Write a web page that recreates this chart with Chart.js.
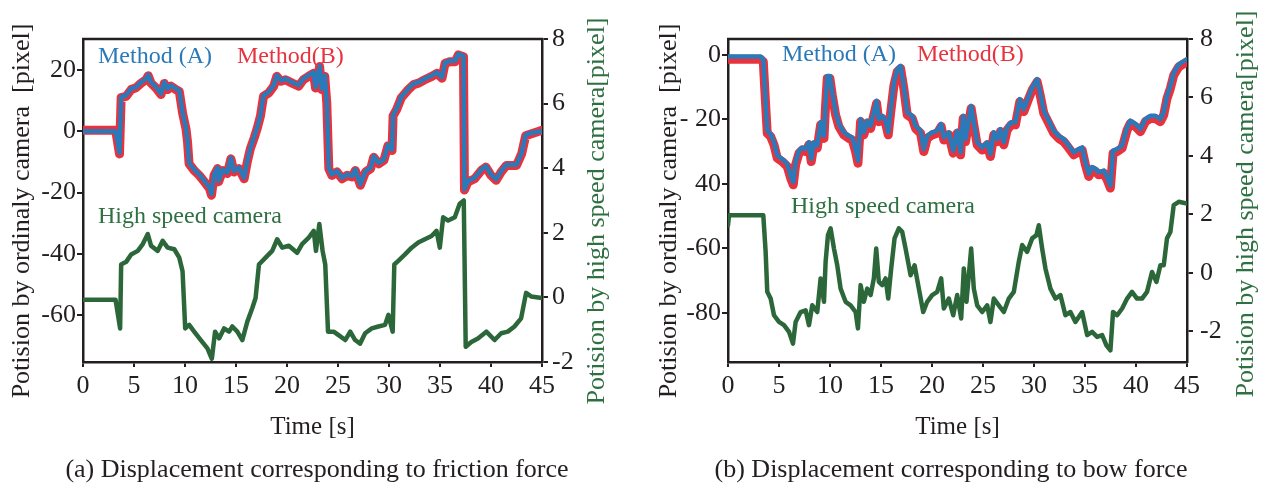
<!DOCTYPE html>
<html>
<head>
<meta charset="utf-8">
<script src="https://cdn.jsdelivr.net/npm/chart.js@4.4.0/dist/chart.umd.min.js"></script>
<style>
  html, body { margin: 0; padding: 0; background: #fff; }
  #wrap { position: relative; width: 1268px; height: 487px; overflow: hidden;
          font-family: "Liberation Serif", "Times New Roman", serif; }
  .panel { position: absolute; top: 0; width: 634px; height: 487px; }
  .caption { position: absolute; top: 456px; width: 634px; text-align: center;
             font-size: 26px; line-height: 26px; color: #231f20; }
</style>
</head>
<body>
<div id="wrap">
  <div class="panel" style="left:0"><canvas id="chartA" width="634" height="487"></canvas></div>
  <div class="panel" style="left:634px"><canvas id="chartB" width="634" height="487"></canvas></div>
  <div class="caption" style="left:0">(a) Displacement corresponding to friction force</div>
  <div class="caption" style="left:634px">(b) Displacement corresponding to bow force</div>
</div>
<script>
// ---- data ----
// (a) friction force: ordinary camera, both methods share the time samples
const timeA = [0, 3.2, 3.58, 3.74, 4.23, 4.72, 5.2, 5.7, 6.18, 6.4, 6.67, 7.16, 7.65, 7.97, 8.3, 8.62, 9.1, 9.44, 9.76, 10.1,
  10.25, 10.4, 10.9, 11.4, 11.9, 12.4, 12.6, 12.85, 13.2, 13.3, 13.7, 14.15, 14.5, 14.8, 15.3, 15.8, 16.1, 16.4, 16.8, 17.1,
  17.4, 17.7, 18.2, 18.7, 19.0, 19.4, 19.85, 20.5, 21.15, 21.6, 22.1, 22.6, 22.8, 23.2, 23.4, 23.7, 23.9, 24.1, 24.4, 24.9,
  25.4, 25.9, 26.4, 26.7, 27.2, 27.7, 28.2, 28.5, 29.0, 29.5, 29.9, 30.3, 30.4, 30.75, 31.2, 31.9, 32.4, 32.9, 33.5, 34.2,
  34.7, 35.2, 35.5, 36.0, 36.5, 36.8, 37.3, 37.4, 37.75, 38.4, 39.05, 39.5, 40.0, 40.5, 41.0, 41.5, 42.0, 42.5, 43.0, 43.4,
  43.9, 45];
const methodA_a = [0, 0, -7, 11.2, 11.7, 13.9, 14.4, 16, 17.1, 18.4, 16, 14.4, 12.3, 16, 13.9, 15, 13.9, 13.3, 6.3, 1,
  -3.3, -10.3, -12.5, -14.1, -16.2, -18.4, -20.5, -14.1, -11.9, -16.2, -12.5, -13.5, -8.7, -13, -11.9, -15.2, -9.8, -5.5, -1.7, 1.5,
  5.3, 11.7, 12.8, 15, 18.2, 16.6, 17.1, 16, 15, 17.1, 18.2, 19.2, 14.4, 21.4, 13.9, 18.2, 9.6, -11.9, -14.1, -13,
  -15.2, -14.1, -14.6, -12.5, -17.3, -13, -11.9, -8.2, -10.3, -9.2, -4.4, -6.0, 5.3, 7.4, 11.2, 13.9, 15.5, 16, 17.1, 18.2,
  19.2, 17.6, 22.5, 23, 23, 25.2, 24.6, -18.9, -16.2, -15.2, -12.5, -11.4, -14.1, -15.7, -13, -10.9, -10.9, -10.9, -7.1, -1.2,
  -0.6, 0];
const methodB_a = [0.3, 0.3, -7.4, 11.0, 11.4, 13.6, 14.2, 15.7, 16.8, 18.1, 15.7, 14.1, 12.0, 15.6, 13.6, 14.7, 13.6, 13.0, 6.0, 0.7,
  -3.6, -10.6, -12.8, -14.4, -16.5, -18.7, -20.9, -14.4, -12.2, -16.5, -12.8, -13.8, -9.0, -13.3, -12.2, -15.5, -10.1, -5.8, -2.0, 1.2,
  5.0, 11.4, 12.5, 14.7, 17.9, 16.3, 16.8, 15.7, 14.7, 16.8, 17.9, 18.9, 14.1, 21.1, 13.6, 17.9, 9.3, -12.2, -14.4, -13.3,
  -15.5, -14.4, -14.9, -12.8, -17.6, -13.3, -12.2, -8.5, -10.6, -9.5, -4.7, -6.3, 5.0, 7.1, 10.9, 13.6, 15.2, 15.7, 16.8, 17.9,
  18.9, 17.3, 22.2, 22.7, 22.7, 24.9, 24.3, -19.2, -16.5, -15.5, -12.8, -11.7, -14.4, -16.0, -13.3, -11.2, -11.2, -11.2, -7.4, -1.5,
  -0.9, 0.3];
// (a) high speed camera
const timeCamA = [0, 3.19, 3.64, 3.74, 4.23, 4.72, 5.37, 5.86, 6.35, 6.67, 7.32, 7.81, 8.3, 8.95, 9.44, 9.76, 10.02, 10.41, 10.9, 11.55,
  12.2, 12.63, 12.95, 13.34, 13.83, 14.32, 14.64, 15.13, 15.62, 16.11, 16.6, 16.92, 17.25, 17.9, 18.55, 19.04, 19.53, 20.18, 20.99, 21.48,
  22.13, 22.62, 22.84, 23.17, 23.49, 23.75, 24.02, 24.57, 25.06, 25.71, 26.2, 26.68, 27.17, 27.66, 28.31, 28.96, 29.61, 29.94, 30.36, 30.52,
  30.91, 31.57, 32.22, 32.87, 33.52, 34.17, 34.66, 34.98, 35.31, 35.8, 36.45, 36.93, 37.33, 37.52, 38.07, 38.72, 39.54, 40.35, 41.0, 41.65,
  42.3, 42.95, 43.44, 43.93, 45];
const camera_a = [-0.07, -0.07, -0.96, 1.02, 1.1, 1.33, 1.44, 1.65, 1.96, 1.6, 1.44, 1.75, 1.54, 1.49, 1.23, 0.81, -0.96, -0.85, -1.06, -1.32,
  -1.58, -1.9, -1.06, -1.27, -0.96, -1.06, -0.9, -1.06, -1.32, -0.75, -0.33, -0.02, 1.02, 1.23, 1.44, 1.8, 1.54, 1.6, 1.38, 1.65,
  1.85, 2.06, 1.44, 2.27, 1.44, 1.02, -1.06, -1.06, -1.17, -1.32, -1.06, -1.32, -1.43, -1.11, -0.96, -0.9, -0.85, -0.54, -1.06, 1.02,
  1.13, 1.33, 1.54, 1.7, 1.8, 1.9, 2.06, 1.54, 2.48, 2.38, 2.48, 2.9, 3.0, -1.53, -1.38, -1.27, -1.06, -1.32, -1.11, -1.06,
  -0.9, -0.65, 0.14, 0.03, -0.02];

// (b) bow force: ordinary camera
const timeB = [0, 3.2, 3.46, 3.69, 3.85, 4.18, 4.51, 4.83, 5.32, 5.81, 6.14, 6.4, 6.63, 6.96, 7.28, 7.61, 7.94, 8.16, 8.43, 8.75,
  9.08, 9.41, 9.57, 9.73, 9.99, 10.22, 10.55, 10.87, 11.36, 11.85, 12.18, 12.51, 12.74, 13.0, 13.32, 13.65, 13.98, 14.3, 14.57, 14.79,
  15.12, 15.45, 15.71, 15.94, 16.27, 16.59, 16.92, 17.24, 17.57, 18.06, 18.39, 18.88, 19.2, 19.53, 20.02, 20.51, 20.9, 21.16, 21.65, 22.08,
  22.47, 22.8, 23.06, 23.29, 23.61, 23.84, 24.1, 24.43, 24.92, 25.41, 25.73, 26.06, 26.39, 26.71, 27.04, 27.37, 27.76, 28.18, 28.61, 29.0,
  29.49, 29.82, 30.31, 30.64, 30.96, 31.45, 31.94, 32.43, 32.92, 33.41, 33.9, 34.39, 34.72, 35.04, 35.37, 35.7, 36.02, 36.35, 36.84, 37.17,
  37.49, 37.75, 38.15, 38.64, 39.13, 39.45, 39.94, 40.43, 40.92, 41.41, 41.9, 42.39, 42.72, 43.04, 43.37, 43.7, 44.19, 45.0];
const methodA_b = [-0.5, -0.5, -1.3, -14.7, -23.5, -24.5, -27.1, -31.2, -32.3, -33.8,
  -37.4, -39.5, -33.3, -29.7, -28.7, -29.2, -27.1, -32.3, -27.1, -28.1,
  -20.9, -25.1, -14.7, -6.5, -6.5, -11.6, -17.8, -21.4, -24, -25.1,
  -25.6, -29.2, -32.8, -19.9, -24, -20.4, -22, -17.8, -14.2, -19.9,
  -18.9, -20.4, -24, -17.3, -8.6, -4.4, -3.4, -9.6, -17.8, -18.9,
  -22, -23.5, -29.2, -25.1, -24, -23.5, -21.4, -25.6, -24, -29.7,
  -23.5, -30.2, -18.9, -26.1, -19.9, -15.8, -20.9, -27.1, -28.7, -27.1,
  -30.7, -24, -26.1, -23, -27.1, -22.5, -20.9, -20.9, -13.7, -16.8,
  -12.7, -10.1, -7.5, -12.2, -17.3, -20.4, -23.5, -25.1, -26.1, -28.1,
  -30.2, -29.2, -28.7, -33.3, -36.9, -34.8, -35.3, -36.4, -35.9, -37.9,
  -40.5, -29.7, -29.2, -28.1, -22.5, -20.4, -21.4, -23, -19.9, -18.9,
  -18.9, -19.9, -17.8, -12.7, -9.6, -5.5, -2.9, -1.3];
const methodB_b = [-1.3, -1.3, -2.1, -15.5, -24.3, -25.3, -27.9, -32.0, -33.1, -34.6,
  -38.2, -40.3, -34.1, -30.5, -29.5, -30.0, -27.9, -33.1, -27.9, -28.9,
  -21.7, -25.9, -15.5, -7.3, -7.3, -12.4, -18.6, -22.2, -24.8, -25.9,
  -26.4, -30.0, -33.6, -20.7, -24.8, -21.2, -22.8, -18.6, -15.0, -20.7,
  -19.7, -21.2, -24.8, -18.1, -9.4, -5.2, -4.2, -10.4, -18.6, -19.7,
  -22.8, -24.3, -30.0, -25.9, -24.8, -24.3, -22.2, -26.4, -24.8, -30.5,
  -24.3, -31.0, -19.7, -26.9, -20.7, -16.6, -21.7, -27.9, -29.5, -27.9,
  -31.5, -24.8, -26.9, -23.8, -27.9, -23.3, -21.7, -21.7, -14.5, -17.6,
  -13.5, -10.9, -8.3, -13.0, -18.1, -21.2, -24.3, -25.9, -26.9, -28.9,
  -31.0, -30.0, -29.5, -34.1, -37.7, -35.6, -36.1, -37.2, -36.7, -38.7,
  -41.3, -30.5, -30.0, -28.9, -23.3, -21.2, -22.2, -23.8, -20.7, -19.7,
  -19.7, -20.7, -18.6, -13.5, -10.4, -6.3, -3.7, -2.1];
// (b) high speed camera
const timeCamB = [0, 0.1, 3.46, 3.69, 3.85, 4.18, 4.51, 5.0, 5.49, 5.98, 6.37, 6.63, 7.12, 7.61, 7.94, 8.26, 8.75, 9.08, 9.41, 9.57,
  9.8, 10.06, 10.39, 10.71, 11.04, 11.53, 12.02, 12.51, 12.74, 13.0, 13.32, 13.65, 13.98, 14.3, 14.53, 14.79, 15.12, 15.45, 15.71, 16.0,
  16.33, 16.75, 17.08, 17.41, 17.9, 18.29, 18.71, 19.14, 19.53, 20.02, 20.51, 20.9, 21.16, 21.65, 22.08, 22.47, 22.86, 23.12, 23.38, 23.84,
  24.1, 24.43, 24.92, 25.41, 25.73, 26.06, 26.55, 27.04, 27.53, 28.02, 28.51, 28.84, 29.33, 29.82, 30.24, 30.47, 30.8, 31.12, 31.61, 32.1,
  32.59, 33.08, 33.57, 34.06, 34.72, 35.21, 35.7, 36.19, 36.68, 37.1, 37.49, 37.75, 38.15, 38.64, 39.13, 39.61, 40.1, 40.59, 41.08, 41.57,
  42.0, 42.39, 42.72, 43.04, 43.37, 43.7, 44.19, 45];
const camera_b = [1.63, 1.97, 1.97, 0.72, -0.65, -0.88, -1.45, -1.68, -1.79, -2.02, -2.42, -1.68, -1.34, -1.28, -1.79, -1.11, -1.34, -0.19, -0.99, 0.38,
  1.29, 1.52, 0.83, 0.26, -0.54, -0.99, -1.11, -1.34, -1.9, -0.42, -0.99, -0.54, -0.76, -0.19, 0.83, -0.31, -0.42, -0.19, -0.88, 0.15,
  1.18, 1.52, 1.4, 0.83, -0.08, 0.26, -0.54, -1.34, -0.99, -0.76, -0.65, -0.19, -1.22, -0.88, -1.45, -0.76, -1.56, 0.15, -0.99, 0.83,
  -0.54, -1.11, -1.34, -1.11, -1.68, -0.88, -1.11, -1.34, -0.88, -0.65, 0.38, 0.95, 0.72, 1.18, 1.29, 1.63, 0.83, 0.15, -0.54, -0.88,
  -0.76, -1.45, -1.34, -1.68, -1.34, -2.13, -2.02, -2.19, -2.13, -2.48, -2.65, -1.34, -1.45, -1.22, -0.88, -0.65, -0.88, -0.88, -0.65, 0.03,
  -0.31, 0.26, 0.26, 1.18, 1.4, 2.32, 2.43, 2.37];

// ---- ticks ----
const xTicks = [0, 5, 10, 15, 20, 25, 30, 35, 40, 45];
const leftTicksA = [-60, -40, -20, 0, 20];
const leftLabelsA = ['-60', '-40', '-20', '0', '20'];
const leftTicksB = [-80, -60, -40, -20, 0];
const leftLabelsB = ['-80', '-60', '40', '- 20', '0'];   // as printed in the figure
const rightTicks = [-2, 0, 2, 4, 6, 8];
const rightLabels = ['-2', '0', '2', '4', '6', '8'];

// ---- styling ----
const FONT = '"Liberation Serif", "Times New Roman", serif';
const INK = '#231f20';
const BLUE = '#2a79b8';
const RED = '#e8333f';
const GREEN = '#2c673a';
const GREEN_TEXT = '#2f7042';

function toPoints(times, values) {
  const n = Math.min(times.length, values.length);
  const pts = [];
  for (let i = 0; i < n; i++) pts.push({ x: times[i], y: values[i] });
  return pts;
}

function fixedTicks(values) {
  return s => { s.ticks = values.map(v => ({ value: v })); };
}

// frame top line, in-plot labels and the two rotated y titles
const decorPlugin = {
  id: 'decor',
  afterDraw(chart, args, o) {
    const { ctx, chartArea: a } = chart;
    ctx.save();
    ctx.strokeStyle = INK;
    ctx.lineWidth = 2.5;
    ctx.beginPath();
    ctx.moveTo(a.left - 1, a.top);
    ctx.lineTo(a.right + 1, a.top);
    ctx.stroke();

    ctx.textBaseline = 'alphabetic';
    ctx.textAlign = 'left';
    ctx.font = '24px ' + FONT;
    o.labels.forEach(l => {
      ctx.fillStyle = l.color;
      ctx.fillText(l.text, l.x, l.y);
    });

    ctx.font = '26px ' + FONT;
    ctx.textAlign = 'center';
    ctx.textBaseline = 'middle';
    o.titles.forEach(t => {
      ctx.save();
      ctx.translate(t.x, t.y);
      ctx.rotate(-Math.PI / 2);
      ctx.fillStyle = t.color;
      ctx.fillText(t.text, 0, 0);
      ctx.restore();
    });
    ctx.restore();
  }
};

function makeChart(id, p) {
  const tickFont = { family: FONT, size: 26 };
  const axisGrid = { drawOnChartArea: false, color: INK, lineWidth: 2, tickLength: 6 };
  new Chart(document.getElementById(id), {
    type: 'line',
    data: {
      datasets: [
        { label: 'Method (A)', data: toPoints(p.time, p.a), yAxisID: 'y', borderColor: BLUE, borderWidth: 4.5, order: 0 },
        { label: 'Method(B)', data: toPoints(p.time, p.b), yAxisID: 'y', borderColor: RED, borderWidth: 9, order: 1 },
        { label: 'High speed camera', data: toPoints(p.timeCam, p.cam), yAxisID: 'y1', borderColor: GREEN, borderWidth: 4.5, order: 2 }
      ]
    },
    options: {
      responsive: false,
      animation: false,
      devicePixelRatio: 1,
      layout: { padding: { top: 39 } },
      elements: {
        point: { radius: 0 },
        line: { tension: 0, fill: false, borderJoinStyle: 'round', borderCapStyle: 'round' }
      },
      plugins: {
        legend: { display: false },
        tooltip: { enabled: false },
        decor: { labels: p.labels, titles: p.titles }
      },
      scales: {
        x: {
          type: 'linear', position: 'bottom', min: 0, max: 45,
          afterFit: s => { s.height = 125; },
          afterBuildTicks: fixedTicks(xTicks),
          ticks: { font: tickFont, color: INK, padding: 4, maxRotation: 0, autoSkip: false },
          grid: Object.assign({}, axisGrid, { tickLength: 5 }),
          border: { color: INK, width: 2.5 },
          title: { display: true, text: 'Time [s]', color: INK, font: { family: FONT, size: 25 }, padding: { top: 0, bottom: 45 } }
        },
        y: {
          position: 'left', min: p.yMin, max: p.yMax,
          afterFit: s => { s.width = p.leftW; },
          afterBuildTicks: fixedTicks(p.leftTicks),
          ticks: { font: tickFont, color: INK, padding: 1, autoSkip: false,
                   callback: (v, i) => p.leftLabels[i] },
          grid: axisGrid,
          border: { color: INK, width: 2.5 }
        },
        y1: {
          position: 'right', min: p.y1Min, max: 8,
          afterFit: s => { s.width = p.rightW; },
          afterBuildTicks: fixedTicks(rightTicks),
          ticks: { font: tickFont, color: INK, padding: p.rightPad, autoSkip: false,
                   callback: (v, i) => rightLabels[i] },
          grid: axisGrid,
          border: { color: INK, width: 2.5 }
        }
      }
    },
    plugins: [decorPlugin]
  });
}

makeChart('chartA', {
  time: timeA, a: methodA_a, b: methodB_a, timeCam: timeCamA, cam: camera_a,
  yMin: -75.3, yMax: 30.1, y1Min: -2, leftW: 83, rightW: 92, rightPad: 4,
  leftTicks: leftTicksA, leftLabels: leftLabelsA,
  labels: [
    { text: 'Method (A)', x: 98, y: 63, color: BLUE },
    { text: 'Method(B)', x: 237, y: 63, color: RED },
    { text: 'High speed camera', x: 98, y: 223, color: GREEN_TEXT }
  ],
  titles: [
    { text: 'Potision by ordinaly camera  [pixel]', x: 22, y: 211, color: INK },
    { text: 'Potision by high speed camera[pixel]', x: 597, y: 211, color: GREEN_TEXT }
  ]
});

makeChart('chartB', {
  time: timeB, a: methodA_b, b: methodB_b, timeCam: timeCamB, cam: camera_b,
  yMin: -95.3, yMax: 4.95, y1Min: -3.05, leftW: 94, rightW: 81, rightPad: 7,
  leftTicks: leftTicksB, leftLabels: leftLabelsB,
  labels: [
    { text: 'Method (A)', x: 148, y: 61, color: BLUE },
    { text: 'Method(B)', x: 283, y: 61, color: RED },
    { text: 'High speed camera', x: 157, y: 213, color: GREEN_TEXT }
  ],
  titles: [
    { text: 'Potision by ordinaly camera  [pixel]', x: 35, y: 211, color: INK },
    { text: 'Potision by high speed camera[pixel]', x: 612, y: 204, color: GREEN_TEXT }
  ]
});
</script>
</body>
</html>
